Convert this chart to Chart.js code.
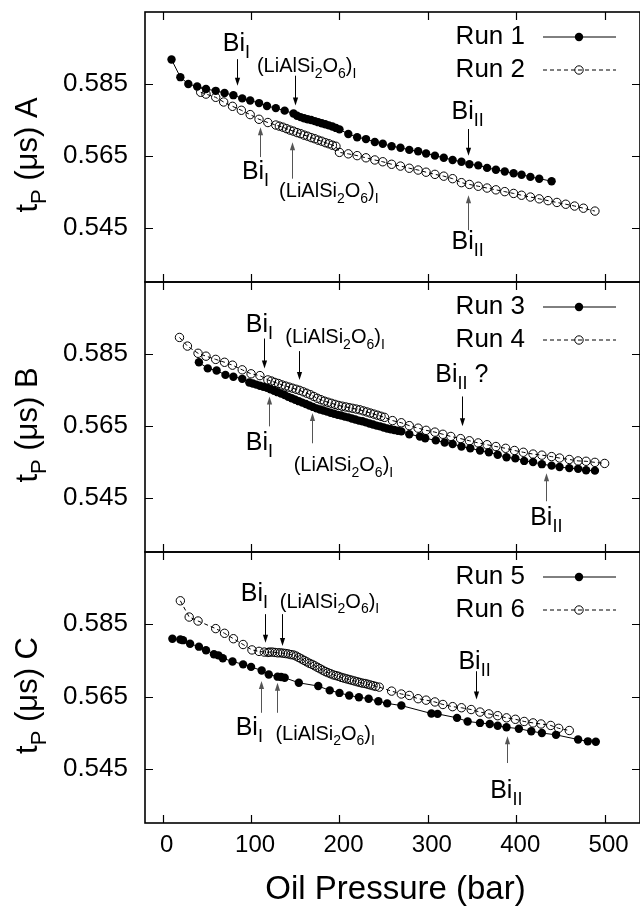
<!DOCTYPE html>
<html>
<head>
<meta charset="utf-8">
<script src="https://cdn.jsdelivr.net/npm/chart.js@4/dist/chart.umd.min.js"></script>
<style>
  body { margin: 0; background: #fff; }
  .wrap { position: relative; width: 640px; height: 906px; }
  .wrap canvas { position: absolute; left: 0; top: 0; }
</style>
</head>
<body>
<div class="wrap">
  <canvas id="panelA" width="640" height="906"></canvas>
  <canvas id="panelB" width="640" height="906"></canvas>
  <canvas id="panelC" width="640" height="906"></canvas>
</div>
<script>
// ---- data (oil pressure in bar, t_P in microseconds) ----
var xTicks = [0, 100, 200, 300, 400, 500];
var yTicks = [0.545, 0.565, 0.585];

var p1 = [10, 20, 29, 39, 49, 60, 70, 80, 90, 99, 109, 118, 128, 138, 148, 152, 156, 160, 164, 168, 172, 176, 180, 184, 188, 192, 196, 200, 210, 220, 230, 240, 249, 259, 269, 279, 289, 298, 308, 318, 328, 338, 347, 357, 367, 377, 387, 397, 406, 416, 426, 440];
var t1 = [0.5918, 0.5869, 0.5850, 0.5843, 0.5836, 0.5831, 0.5825, 0.5819, 0.5810, 0.5804, 0.5797, 0.5789, 0.5783, 0.5776, 0.5768, 0.5762, 0.5758, 0.5755, 0.5752, 0.5750, 0.5747, 0.5744, 0.5741, 0.5738, 0.5735, 0.5732, 0.5728, 0.5724, 0.5711, 0.5702, 0.5697, 0.5689, 0.5684, 0.5677, 0.5673, 0.5667, 0.5663, 0.5657, 0.5651, 0.5645, 0.5639, 0.5634, 0.5627, 0.5624, 0.5617, 0.5612, 0.5607, 0.5602, 0.5598, 0.5592, 0.5587, 0.5580];

var p2 = [43, 49, 60, 69, 79, 89, 99, 109, 119, 128, 132, 136, 140, 144, 148, 152, 156, 160, 164, 168, 172, 176, 180, 184, 188, 192, 196, 200, 210, 220, 230, 240, 249, 259, 269, 279, 289, 298, 308, 318, 328, 338, 347, 357, 367, 377, 387, 397, 406, 416, 426, 436, 446, 456, 466, 476, 489];
var t2 = [0.5827, 0.5822, 0.5813, 0.5800, 0.5788, 0.5777, 0.5765, 0.5752, 0.5743, 0.5736, 0.5733, 0.5730, 0.5726, 0.5722, 0.5719, 0.5715, 0.5712, 0.5708, 0.5705, 0.5701, 0.5698, 0.5694, 0.5691, 0.5687, 0.5684, 0.5680, 0.5677, 0.5660, 0.5656, 0.5651, 0.5645, 0.5639, 0.5634, 0.5627, 0.5622, 0.5616, 0.5611, 0.5605, 0.5599, 0.5594, 0.5587, 0.5576, 0.5571, 0.5566, 0.5561, 0.5556, 0.5551, 0.5546, 0.5541, 0.5536, 0.5531, 0.5526, 0.5521, 0.5516, 0.5511, 0.5505, 0.5497];

var p3 = [41, 51, 61, 71, 80, 90, 98, 102, 106, 110, 114, 118, 122, 126, 130, 134, 138, 142, 146, 150, 154, 158, 162, 166, 170, 174, 178, 182, 186, 190, 194, 198, 202, 206, 210, 214, 218, 222, 226, 230, 234, 238, 242, 246, 250, 254, 258, 262, 266, 270, 279, 291, 297, 309, 319, 328, 338, 348, 359, 369, 379, 389, 399, 409, 419, 429, 440, 449, 460, 470, 479, 489];
var t3 = [0.5827, 0.5810, 0.5804, 0.5792, 0.5787, 0.5781, 0.5771, 0.5768, 0.5765, 0.5762, 0.5759, 0.5756, 0.5752, 0.5748, 0.5744, 0.5740, 0.5736, 0.5731, 0.5727, 0.5723, 0.5719, 0.5715, 0.5711, 0.5707, 0.5703, 0.5699, 0.5696, 0.5693, 0.5690, 0.5687, 0.5684, 0.5681, 0.5679, 0.5676, 0.5674, 0.5671, 0.5668, 0.5665, 0.5663, 0.5660, 0.5657, 0.5654, 0.5651, 0.5649, 0.5646, 0.5643, 0.5641, 0.5639, 0.5637, 0.5635, 0.5627, 0.5621, 0.5616, 0.5610, 0.5604, 0.5600, 0.5593, 0.5588, 0.5582, 0.5577, 0.5570, 0.5563, 0.5560, 0.5553, 0.5550, 0.5544, 0.5540, 0.5536, 0.5533, 0.5531, 0.5527, 0.5526];

var p4 = [19, 28, 40, 49, 60, 70, 79, 90, 100, 110, 119, 123, 127, 131, 135, 139, 143, 147, 151, 155, 159, 163, 167, 171, 175, 179, 183, 187, 191, 195, 199, 203, 207, 211, 215, 219, 223, 227, 231, 235, 239, 243, 247, 251, 260, 270, 279, 289, 298, 308, 317, 326, 337, 347, 357, 367, 377, 388, 398, 408, 419, 429, 440, 449, 460, 470, 479, 489, 500];
var t4 = [0.5896, 0.5872, 0.5852, 0.5844, 0.5835, 0.5827, 0.5819, 0.5806, 0.5795, 0.5790, 0.5778, 0.5775, 0.5771, 0.5768, 0.5764, 0.5761, 0.5758, 0.5755, 0.5752, 0.5749, 0.5745, 0.5741, 0.5737, 0.5732, 0.5727, 0.5723, 0.5719, 0.5716, 0.5713, 0.5710, 0.5707, 0.5705, 0.5703, 0.5701, 0.5699, 0.5697, 0.5695, 0.5692, 0.5689, 0.5686, 0.5683, 0.5680, 0.5677, 0.5674, 0.5665, 0.5659, 0.5651, 0.5644, 0.5638, 0.5633, 0.5627, 0.5621, 0.5615, 0.5609, 0.5603, 0.5598, 0.5593, 0.5588, 0.5582, 0.5577, 0.5572, 0.5569, 0.5565, 0.5561, 0.5557, 0.5553, 0.5552, 0.5549, 0.5546];

var p5 = [11, 20, 23, 31, 41, 49, 58, 63, 68, 79, 91, 100, 112, 120, 130, 134, 138, 154, 176, 189, 200, 211, 222, 233, 244, 254, 270, 304, 311, 333, 345, 359, 370, 379, 389, 403, 417, 429, 445, 470, 481, 490];
var t5 = [0.5810, 0.5808, 0.5806, 0.5796, 0.5788, 0.5778, 0.5767, 0.5764, 0.5756, 0.5747, 0.5739, 0.5732, 0.5722, 0.5711, 0.5705, 0.5704, 0.5702, 0.5688, 0.5679, 0.5667, 0.5660, 0.5653, 0.5648, 0.5644, 0.5637, 0.5631, 0.5625, 0.5603, 0.5602, 0.5591, 0.5581, 0.5577, 0.5574, 0.5569, 0.5565, 0.5561, 0.5554, 0.5549, 0.5544, 0.5531, 0.5526, 0.5525];

var p6 = [20, 30, 40, 60, 70, 80, 91, 101, 109, 115, 119, 121, 124, 127, 130, 133, 136, 139, 142, 145, 148, 151, 154, 157, 160, 163, 166, 169, 172, 175, 178, 181, 184, 187, 190, 193, 196, 199, 202, 205, 208, 211, 214, 217, 220, 223, 226, 229, 232, 235, 238, 241, 245, 259, 270, 279, 289, 298, 308, 317, 328, 338, 349, 359, 369, 379, 389, 399, 409, 419, 428, 439, 448, 460];
var t6 = [0.5915, 0.5870, 0.5859, 0.5838, 0.5825, 0.5810, 0.5794, 0.5779, 0.5775, 0.5773, 0.5772, 0.5773, 0.5773, 0.5772, 0.5771, 0.5771, 0.5770, 0.5769, 0.5768, 0.5766, 0.5765, 0.5762, 0.5758, 0.5754, 0.5750, 0.5746, 0.5742, 0.5739, 0.5735, 0.5731, 0.5727, 0.5723, 0.5719, 0.5716, 0.5713, 0.5710, 0.5708, 0.5706, 0.5703, 0.5701, 0.5699, 0.5697, 0.5695, 0.5693, 0.5691, 0.5689, 0.5687, 0.5686, 0.5684, 0.5682, 0.5680, 0.5678, 0.5676, 0.5665, 0.5657, 0.5653, 0.5644, 0.5640, 0.5635, 0.5628, 0.5622, 0.5619, 0.5614, 0.5607, 0.5602, 0.5597, 0.5591, 0.5587, 0.5581, 0.5577, 0.5574, 0.5570, 0.5562, 0.5556];

// phase-transition markers: arrow at pressure ax from tail to tip (t_P), label baseline at (tx, ty)
var notesA = [
  { text: 'Bi_{I}', ax: 84, tail: 0.5919, tip: 0.5845, tx: 83.4, ty: 0.5942 },
  { text: '(LiAlSi_{2}O_{6})_{I}', ax: 149.7, tail: 0.5873, tip: 0.5790, tx: 162.9, ty: 0.5882 },
  { text: 'Bi_{I}', ax: 110, tail: 0.5647, tip: 0.5730, tx: 105, ty: 0.5587 },
  { text: '(LiAlSi_{2}O_{6})_{I}', ax: 145.9, tail: 0.5587, tip: 0.5688, tx: 188, ty: 0.5536 },
  { text: 'Bi_{II}', ax: 345.4, tail: 0.5725, tip: 0.5651, tx: 345, ty: 0.5753 },
  { text: 'Bi_{II}', ax: 345.4, tail: 0.5444, tip: 0.5541, tx: 345, ty: 0.5393 }
];
var notesB = [
  { text: 'Bi_{I}', ax: 114.3, tail: 0.5893, tip: 0.5810, tx: 109.4, ty: 0.5912 },
  { text: '(LiAlSi_{2}O_{6})_{I}', ax: 154.7, tail: 0.5858, tip: 0.5778, tx: 195, ty: 0.5880 },
  { text: 'Bi_{I}', ax: 120, tail: 0.5649, tip: 0.5732, tx: 109.4, ty: 0.5584 },
  { text: '(LiAlSi_{2}O_{6})_{I}', ax: 169, tail: 0.5602, tip: 0.5686, tx: 204.5, ty: 0.5524 },
  { text: 'Bi_{II} ?', ax: 338.9, tail: 0.5732, tip: 0.5649, tx: 338.5, ty: 0.5773 },
  { text: 'Bi_{II}', ax: 434, tail: 0.5441, tip: 0.5519, tx: 434, ty: 0.5376 }
];
var notesC = [
  { text: 'Bi_{I}', ax: 116.2, tail: 0.5878, tip: 0.5799, tx: 103.8, ty: 0.5915 },
  { text: '(LiAlSi_{2}O_{6})_{I}', ax: 135, tail: 0.5878, tip: 0.5790, tx: 188.7, ty: 0.5896 },
  { text: 'Bi_{I}', ax: 111.7, tail: 0.5605, tip: 0.5693, tx: 98, ty: 0.5544 },
  { text: '(LiAlSi_{2}O_{6})_{I}', ax: 129.4, tail: 0.5605, tip: 0.5688, tx: 183.8, ty: 0.5531 },
  { text: 'Bi_{II}', ax: 354.7, tail: 0.5720, tip: 0.5642, tx: 352.8, ty: 0.5725 },
  { text: 'Bi_{II}', ax: 389.4, tail: 0.5466, tip: 0.5540, tx: 388.7, ty: 0.5369 }
];

var FONT = '"Liberation Sans", Arial, Helvetica, sans-serif';

function pts(xs, ys) {
  return xs.map(function (x, i) { return { x: x, y: ys[i] }; });
}

function filledRun(label, xs, ys) {
  return {
    label: label, data: pts(xs, ys),
    borderColor: '#000', borderWidth: 1, backgroundColor: '#000',
    pointRadius: 4.2, pointBackgroundColor: '#000', pointBorderColor: '#000', pointBorderWidth: 0,
    tension: 0, fill: false
  };
}

function openRun(label, xs, ys) {
  return {
    label: label, data: pts(xs, ys),
    borderColor: '#000', borderWidth: 1, borderDash: [4, 3], backgroundColor: 'rgba(0,0,0,0)',
    pointRadius: 4.2, pointBackgroundColor: 'rgba(0,0,0,0)', pointBorderColor: '#000', pointBorderWidth: 1,
    tension: 0, fill: false
  };
}

// split "Bi_{II}" into normal / subscript pieces
function richParts(str) {
  var parts = [], re = /_\{([^}]*)\}/g, last = 0, m;
  while ((m = re.exec(str))) {
    if (m.index > last) parts.push({ t: str.slice(last, m.index), sub: false });
    parts.push({ t: m[1], sub: true });
    last = re.lastIndex;
  }
  if (last < str.length) parts.push({ t: str.slice(last), sub: false });
  return parts;
}

function drawRich(ctx, str, x, y, size) {
  var parts = richParts(str);
  var subSize = Math.round(size * 0.7);
  var w = 0;
  parts.forEach(function (p) {
    ctx.font = (p.sub ? subSize : size) + 'px ' + FONT;
    p.w = ctx.measureText(p.t).width;
    w += p.w;
  });
  var cx = x - w / 2;
  ctx.textAlign = 'left';
  ctx.textBaseline = 'alphabetic';
  parts.forEach(function (p) {
    ctx.font = (p.sub ? subSize : size) + 'px ' + FONT;
    ctx.fillText(p.t, cx, p.sub ? y + size * 0.28 : y);
    cx += p.w;
  });
}

function drawArrow(ctx, x, y0, y1, color) {
  var dir = y1 > y0 ? 1 : -1;
  ctx.save();
  ctx.strokeStyle = color;
  ctx.fillStyle = color;
  ctx.lineWidth = 1;
  ctx.beginPath();
  ctx.moveTo(x, y0);
  ctx.lineTo(x, y1 - dir * 5);
  ctx.stroke();
  ctx.beginPath();
  ctx.moveTo(x, y1);
  ctx.lineTo(x - 2.6, y1 - dir * 8);
  ctx.lineTo(x + 2.6, y1 - dir * 8);
  ctx.closePath();
  ctx.fill();
  ctx.restore();
}

var panelDeco = {
  id: 'panelDeco',
  afterDraw: function (chart, args, opts) {
    var ctx = chart.ctx, a = chart.chartArea;
    var xs = chart.scales.x, ys = chart.scales.y;
    ctx.save();

    // frame
    ctx.strokeStyle = '#000';
    ctx.lineWidth = 1.6;
    ctx.strokeRect(a.left, a.top, a.right - a.left, a.bottom - a.top);

    // inward ticks
    ctx.lineWidth = 1.2;
    ctx.beginPath();
    xTicks.forEach(function (v) {
      var px = Math.round(xs.getPixelForValue(v)) + 0.5;
      ctx.moveTo(px, a.top); ctx.lineTo(px, a.top + 8);
      ctx.moveTo(px, a.bottom); ctx.lineTo(px, a.bottom - 8);
    });
    yTicks.forEach(function (v) {
      var py = Math.round(ys.getPixelForValue(v)) + 0.5;
      ctx.moveTo(a.left, py); ctx.lineTo(a.left + 8, py);
      ctx.moveTo(a.right, py); ctx.lineTo(a.right - 8, py);
    });
    ctx.stroke();

    // key: right-aligned label, then a sample of the line and marker
    chart.data.datasets.forEach(function (ds, i) {
      var ry = a.top + 25 + i * 33;
      ctx.fillStyle = '#000';
      ctx.font = '26px ' + FONT;
      ctx.textAlign = 'right';
      ctx.textBaseline = 'middle';
      ctx.fillText(ds.label, a.left + 380, ry);
      ctx.strokeStyle = '#000';
      ctx.lineWidth = 1;
      ctx.setLineDash(ds.borderDash || []);
      ctx.beginPath();
      ctx.moveTo(a.left + 398, ry); ctx.lineTo(a.left + 471, ry);
      ctx.stroke();
      ctx.setLineDash([]);
      ctx.beginPath();
      ctx.arc(a.left + 434, ry, ds.pointRadius, 0, Math.PI * 2);
      if (ds.pointBorderWidth === 0) { ctx.fillStyle = '#000'; ctx.fill(); }
      else { ctx.lineWidth = 1; ctx.stroke(); }
    });

    // transition arrows and labels
    (opts.notes || []).forEach(function (n) {
      var ax = xs.getPixelForValue(n.ax);
      var y0 = ys.getPixelForValue(n.tail), y1 = ys.getPixelForValue(n.tip);
      drawArrow(ctx, Math.round(ax) + 0.5, y0, y1, y1 < y0 ? '#555' : '#000');
      ctx.fillStyle = '#000';
      var size = n.text.charAt(0) === '(' ? 20 : 25;
      drawRich(ctx, n.text, xs.getPixelForValue(n.tx), ys.getPixelForValue(n.ty), size);
    });

    // rotated y title
    ctx.save();
    ctx.translate(37, (a.top + a.bottom) / 2 + 8);
    ctx.rotate(-Math.PI / 2);
    ctx.fillStyle = '#000';
    drawRich(ctx, 't_{P} (\u03bcs) ' + opts.letter, 0, 0, 31);
    ctx.restore();

    // x title on the bottom panel only
    if (opts.xTitle) {
      ctx.fillStyle = '#000';
      ctx.font = '33px ' + FONT;
      ctx.textAlign = 'center';
      ctx.textBaseline = 'alphabetic';
      ctx.fillText(opts.xTitle, (a.left + a.right) / 2 + 3, 899);
    }
    ctx.restore();
  }
};

function makePanel(id, padTop, padBottom, sets, notes, letter, showX) {
  return new Chart(document.getElementById(id), {
    type: 'line',
    data: { datasets: sets },
    options: {
      responsive: false,
      animation: false,
      events: [],
      layout: { autoPadding: false, padding: { top: padTop, bottom: padBottom, left: 0, right: 0 } },
      plugins: {
        legend: { display: false },
        tooltip: { enabled: false },
        panelDeco: { notes: notes, letter: letter, xTitle: showX ? 'Oil Pressure (bar)' : null }
      },
      scales: {
        x: {
          type: 'linear', min: -20, max: 540, display: showX,
          grid: { display: false, drawTicks: false },
          border: { display: false },
          ticks: {
            stepSize: 100, includeBounds: false, padding: 8, labelOffset: 4, maxRotation: 0,
            color: '#000', font: { size: 24, family: FONT }
          },
          afterFit: function (s) {
            s.height = showX ? 83 : 0;
            s.paddingLeft = 0; s.paddingRight = 0;
          }
        },
        y: {
          type: 'linear', min: 0.53, max: 0.605,
          grid: { display: false, drawTicks: false },
          border: { display: false },
          afterBuildTicks: function (s) { s.ticks = yTicks.map(function (v) { return { value: v }; }); },
          ticks: {
            padding: 17, color: '#000', font: { size: 26, family: FONT },
            callback: function (v) { return v.toFixed(3); }
          },
          afterFit: function (s) {
            s.width = 145;
            s.paddingTop = 0; s.paddingBottom = 0;
          }
        }
      }
    },
    plugins: [panelDeco]
  });
}

makePanel('panelA', 12, 906 - 282, [filledRun('Run 1', p1, t1), openRun('Run 2', p2, t2)], notesA, 'A', false);
makePanel('panelB', 282, 906 - 552, [filledRun('Run 3', p3, t3), openRun('Run 4', p4, t4)], notesB, 'B', false);
makePanel('panelC', 552, 0, [filledRun('Run 5', p5, t5), openRun('Run 6', p6, t6)], notesC, 'C', true);
</script>
</body>
</html>
